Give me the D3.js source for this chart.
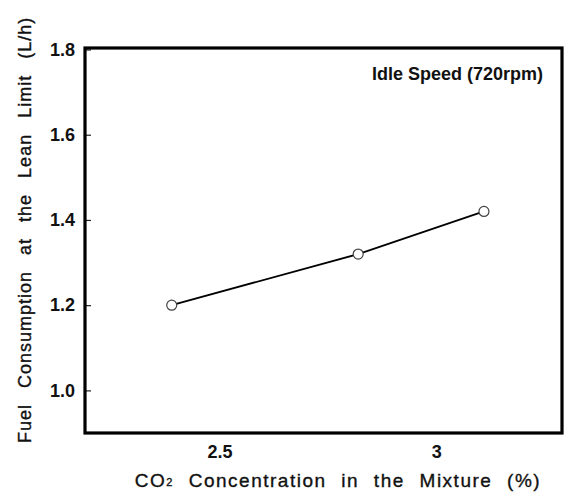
<!DOCTYPE html>
<html><head><meta charset="utf-8">
<script src="https://cdn.jsdelivr.net/npm/d3@7"></script>
<style>body{margin:0;background:#fff}svg{display:block}text{font-family:"Liberation Sans",Arial,sans-serif;fill:#111}</style>
</head><body>
<script>
const co2 = [2.39, 2.82, 3.11];
const fuel = [1.20, 1.32, 1.42];
const yTicks = [1.0, 1.2, 1.4, 1.6, 1.8];
const xTicks = [2.5, 3];
const annotation = "Idle Speed (720rpm)";

const W = 566, H = 502;
const m = {left: 85, right: 4, top: 48, bottom: 69};
const svg = d3.select("body").append("svg").attr("width", W).attr("height", H);
const x = d3.scaleLinear().domain([2.19, 3.29]).range([m.left, W - m.right]);
const y = d3.scaleLinear().domain([0.9, 1.8]).range([H - m.bottom, m.top + 1.5]);

// y axis ticks (inward) and labels
const ya = svg.append("g").attr("transform", `translate(${m.left},0)`)
  .call(d3.axisLeft(y).tickValues(yTicks).tickFormat(d3.format(".1f")).tickSizeInner(-6).tickSizeOuter(0).tickPadding(10));
ya.select(".domain").remove();
ya.selectAll("line").attr("stroke", "#222").attr("stroke-width", 1.2);
ya.selectAll("text").attr("font-size", 18).attr("font-weight", "bold").attr("fill", "#111")
  .style("font-family", '"Liberation Sans",Arial,sans-serif');

// x axis labels (no tick marks)
const xa = svg.append("g").attr("transform", `translate(0,${H - m.bottom})`)
  .call(d3.axisBottom(x).tickValues(xTicks).tickFormat(d => String(d)).tickSize(0).tickPadding(12));
xa.select(".domain").remove();
xa.selectAll("text").attr("font-size", 18).attr("font-weight", "bold").attr("fill", "#111")
  .style("font-family", '"Liberation Sans",Arial,sans-serif');

// frame
svg.append("rect").attr("x", m.left).attr("y", m.top)
  .attr("width", W - m.right - m.left).attr("height", H - m.bottom - m.top)
  .attr("fill", "none").attr("stroke", "#000").attr("stroke-width", 3.2);

// line and markers
const pts = co2.map((c, i) => [c, fuel[i]]);
svg.append("path").datum(pts)
  .attr("d", d3.line().x(d => x(d[0])).y(d => y(d[1])))
  .attr("fill", "none").attr("stroke", "#000").attr("stroke-width", 1.8);
svg.selectAll("circle.pt").data(pts).enter().append("circle")
  .attr("cx", d => x(d[0])).attr("cy", d => y(d[1])).attr("r", 5)
  .attr("fill", "#fff").attr("stroke", "#444").attr("stroke-width", 1.2);

// annotation
svg.append("text").attr("x", 543).attr("y", 80).attr("text-anchor", "end")
  .attr("font-size", 18).attr("font-weight", "bold").text(annotation);

// x title
const xt = svg.append("text").attr("x", 338).attr("y", 487).attr("text-anchor", "middle")
  .attr("font-size", 19).attr("stroke", "#111").attr("stroke-width", 0.35)
  .style("letter-spacing", "1.5px").style("word-spacing", "8px");
xt.append("tspan").text("CO");
xt.append("tspan").attr("font-size", 11).attr("dy", -1).text("2");
xt.append("tspan").attr("dy", 1).text(" Concentration in the Mixture (%)");

// y title
svg.append("text").attr("transform", "translate(31,443) rotate(-90)").attr("text-anchor", "start")
  .attr("font-size", 18).attr("stroke", "#111").attr("stroke-width", 0.35)
  .style("letter-spacing", "1px").style("word-spacing", "10px")
  .text("Fuel Consumption at the Lean Limit (L/h)");
</script>
</body></html>
